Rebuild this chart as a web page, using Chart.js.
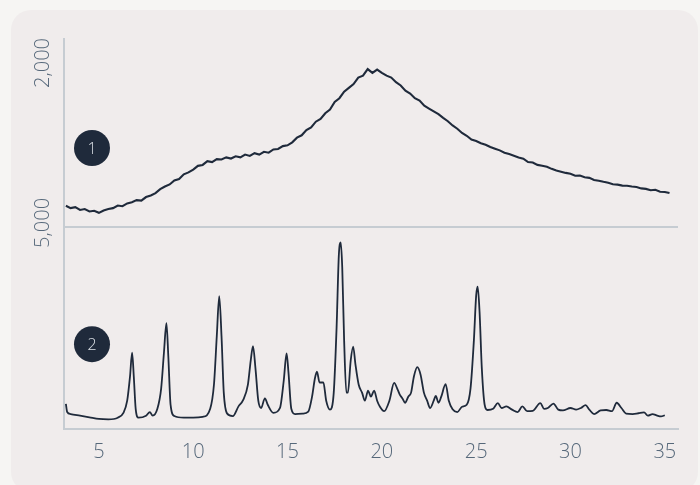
<!DOCTYPE html>
<html>
<head>
<meta charset="utf-8">
<script src="https://cdn.jsdelivr.net/npm/chart.js@4"></script>
<style>
  html, body { margin: 0; padding: 0; background: #f6f5f3; }
  .card {
    position: absolute; left: 11px; top: 10px; width: 687px; height: 482px;
    background: #f0ecec; border-radius: 20px;
  }
  .wrap { position: absolute; left: 0; top: 0; width: 700px; height: 485px; }
</style>
</head>
<body>
<div class="card"></div>
<div class="wrap"><canvas id="xrd"></canvas></div>
<script>
// 2-theta tick labels
const xTicks = [5, 10, 15, 20, 25, 30, 35];
const topTicks = [2000];
const bottomTicks = [5000];
const badges = ['1', '2'];

// pattern 1 (amorphous hump)
const topTheta = [
  3.25, 3.5, 3.75, 4, 4.25, 4.5, 4.75, 5, 5.25, 5.5, 5.75, 6, 6.25, 6.5, 6.75, 7, 7.25, 7.5, 7.75, 8,
  8.25, 8.5, 8.75, 9, 9.25, 9.5, 9.75, 10, 10.25, 10.5, 10.75, 11, 11.25, 11.5, 11.75, 12, 12.25, 12.5, 12.75, 13,
  13.25, 13.5, 13.75, 14, 14.25, 14.5, 14.75, 15, 15.25, 15.5, 15.75, 16, 16.25, 16.5, 16.75, 17, 17.25, 17.5, 17.75, 18,
  18.25, 18.5, 18.75, 19, 19.25, 19.5, 19.75, 20, 20.25, 20.5, 20.75, 21, 21.25, 21.5, 21.75, 22, 22.25, 22.5, 22.75, 23,
  23.25, 23.5, 23.75, 24, 24.25, 24.5, 24.75, 25, 25.25, 25.5, 25.75, 26, 26.25, 26.5, 26.75, 27, 27.25, 27.5, 27.75, 28,
  28.25, 28.5, 28.75, 29, 29.25, 29.5, 29.75, 30, 30.25, 30.5, 30.75, 31, 31.25, 31.5, 31.75, 32, 32.25, 32.5, 32.75, 33,
  33.25, 33.5, 33.75, 34, 34.25, 34.5, 34.75, 35, 35.25
];
const topCounts = [
  225, 200, 210, 180, 190, 165, 172, 150, 175, 190, 200, 228, 220, 250, 262, 285, 280, 318, 335, 360,
  402, 430, 452, 495, 510, 560, 580, 610, 650, 660, 700, 690, 722, 718, 740, 728, 752, 740, 770, 755,
  785, 770, 800, 790, 825, 830, 860, 868, 900, 950, 975, 1030, 1060, 1120, 1150, 1210, 1250, 1330, 1370, 1440,
  1480, 1520, 1590, 1610, 1680, 1640, 1675, 1640, 1610, 1590, 1540, 1505, 1450, 1420, 1370, 1345, 1290, 1260, 1230, 1200,
  1160, 1125, 1080, 1045, 1000, 970, 930, 915, 890, 875, 850, 832, 815, 790, 775, 758, 740, 726, 690, 685,
  660, 652, 640, 618, 600, 588, 575, 566, 545, 546, 528, 522, 500, 492, 480, 470, 455, 450, 440, 438,
  430, 425, 410, 405, 390, 395, 375, 372, 360
];

// pattern 2 (crystalline)
const bottomTheta = [
  3.25, 3.32, 3.5, 4.0, 4.5, 5.0, 5.5, 6.0, 6.3, 6.5, 6.65, 6.76, 6.85, 6.95, 7.1, 7.5, 7.7, 7.85, 8.1, 8.3,
  8.45, 8.58, 8.68, 8.8, 9.0, 9.5, 10.0, 10.5, 10.9, 11.1, 11.25, 11.38, 11.5, 11.62, 11.8, 12.1, 12.4, 12.65, 12.9, 13.05,
  13.17, 13.3, 13.45, 13.6, 13.8, 13.95, 14.25, 14.6, 14.8, 14.95, 15.05, 15.2, 15.4, 15.8, 16.1, 16.3, 16.45, 16.56, 16.7, 16.9,
  17.05, 17.25, 17.45, 17.6, 17.72, 17.82, 17.9, 18.0, 18.12, 18.2, 18.35, 18.48, 18.6, 18.77, 18.95, 19.1, 19.27, 19.42, 19.59, 19.75,
  19.9, 20.12, 20.4, 20.65, 20.85, 20.95, 21.1, 21.23, 21.4, 21.55, 21.7, 21.88, 22.05, 22.23, 22.4, 22.56, 22.75, 22.86, 23.0, 23.15,
  23.38, 23.55, 23.75, 24.0, 24.25, 24.5, 24.7, 24.88, 25.0, 25.08, 25.18, 25.3, 25.45, 25.6, 25.9, 26.15, 26.35, 26.6, 26.9, 27.2,
  27.45, 27.7, 28.0, 28.4, 28.6, 28.8, 29.1, 29.35, 29.6, 30.0, 30.3, 30.55, 30.8, 31.0, 31.25, 31.6, 31.9, 32.2, 32.45, 32.7,
  32.95, 33.3, 33.6, 33.9, 34.1, 34.35, 34.6, 34.8, 35.0
];
const bottomCounts = [
  620, 420, 370, 330, 290, 250, 240, 280, 400, 700, 1300, 1890, 1300, 500, 280, 330, 420, 330, 500, 1000,
  1900, 2620, 1800, 600, 320, 280, 280, 300, 500, 1100, 2300, 3290, 2300, 900, 380, 320, 560, 720, 1100, 1700,
  2050, 1500, 700, 520, 760, 600, 400, 520, 1200, 1870, 1400, 500, 370, 380, 430, 800, 1250, 1420, 1150, 1150,
  700, 480, 900, 2500, 4300, 4620, 4000, 2200, 900, 900, 1700, 2040, 1600, 1100, 900, 700, 950, 800, 950, 700,
  550, 440, 700, 1140, 960, 850, 750, 650, 800, 900, 1300, 1530, 1350, 900, 700, 520, 700, 820, 650, 800,
  1110, 700, 490, 420, 550, 600, 1000, 2200, 3300, 3520, 2900, 1500, 600, 470, 500, 640, 520, 560, 480, 420,
  560, 440, 450, 640, 500, 520, 630, 480, 460, 520, 480, 520, 590, 480, 370, 460, 470, 440, 650, 520,
  380, 370, 390, 410, 330, 370, 330, 310, 340
];

const ink = '#1f2a3b';
const axisLine = '#c6ccd2';
const tickColor = '#56687a';
const tickFont = { family: 'Open Sans', size: 20, weight: '300' };

function toPoints(xs, ys) {
  return xs.map((x, i) => ({ x: x, y: ys[i] }));
}

// fixed axis sizes so the plot area lands where the reference has it
function fixWidth(axis) {
  axis.width = 64;
  axis.paddingTop = 0;
  axis.paddingBottom = 0;
}
function fixHeight(axis) {
  axis.height = 40;
  axis.paddingLeft = 0;
  axis.paddingRight = 0;
}

// numbered circles in each panel
const badgePlugin = {
  id: 'badges',
  afterDatasetsDraw(chart) {
    const ctx = chart.ctx;
    const panels = [chart.scales.yTop, chart.scales.yBot];
    ctx.save();
    panels.forEach((s, i) => {
      const cx = chart.chartArea.left + 28;
      const cy = s.top + s.height * 0.58;
      ctx.beginPath();
      ctx.arc(cx, cy, 18, 0, Math.PI * 2);
      ctx.fillStyle = ink;
      ctx.fill();
      ctx.fillStyle = '#dde2e8';
      ctx.font = '300 16px "Open Sans"';
      ctx.textAlign = 'center';
      ctx.textBaseline = 'middle';
      ctx.fillText(badges[i], cx, cy + 1);
    });
    ctx.restore();
  }
};

new Chart(document.getElementById('xrd'), {
  type: 'line',
  data: {
    datasets: [
      {
        data: toPoints(topTheta, topCounts),
        yAxisID: 'yTop',
        borderColor: ink,
        borderWidth: 2.1,
        pointRadius: 0,
        tension: 0
      },
      {
        data: toPoints(bottomTheta, bottomCounts),
        yAxisID: 'yBot',
        borderColor: ink,
        borderWidth: 1.8,
        pointRadius: 0,
        cubicInterpolationMode: 'monotone'
      }
    ]
  },
  options: {
    responsive: true,
    maintainAspectRatio: false,
    animation: false,
    layout: { padding: { left: 0, right: 22, top: 39, bottom: 16 } },
    plugins: { legend: { display: false }, tooltip: { enabled: false } },
    scales: {
      x: {
        type: 'linear',
        min: 3.15,
        max: 35.7,
        afterBuildTicks: (axis) => { axis.ticks = xTicks.map(v => ({ value: v })); },
        afterFit: fixHeight,
        grid: { display: false, drawTicks: false },
        border: { display: true, color: axisLine, width: 2 },
        ticks: { color: tickColor, font: tickFont, padding: 11, maxRotation: 0 }
      },
      yTop: {
        type: 'linear',
        position: 'left',
        stack: 'xrd',
        stackWeight: 0.93,
        weight: 1,
        min: 0,
        max: 2000,
        afterBuildTicks: (axis) => { axis.ticks = topTicks.map(v => ({ value: v })); },
        afterFit: fixWidth,
        grid: { display: false, drawTicks: false },
        border: { display: true, color: axisLine, width: 2 },
        ticks: {
          color: tickColor, font: tickFont, padding: 21,
          minRotation: 90, maxRotation: 90, labelOffset: -1,
          callback: (v) => v.toLocaleString('en-US')
        }
      },
      yBot: {
        type: 'linear',
        position: 'left',
        stack: 'xrd',
        stackWeight: 1,
        weight: 0,
        min: 0,
        max: 5000,
        afterBuildTicks: (axis) => { axis.ticks = bottomTicks.map(v => ({ value: v })); },
        afterFit: fixWidth,
        grid: { display: true, drawTicks: false, color: axisLine, lineWidth: 2 },
        border: { display: true, color: axisLine, width: 2 },
        ticks: {
          color: tickColor, font: tickFont, padding: 21,
          minRotation: 90, maxRotation: 90, labelOffset: -29,
          callback: (v) => v.toLocaleString('en-US')
        }
      }
    }
  },
  plugins: [badgePlugin]
});
</script>
</body>
</html>
